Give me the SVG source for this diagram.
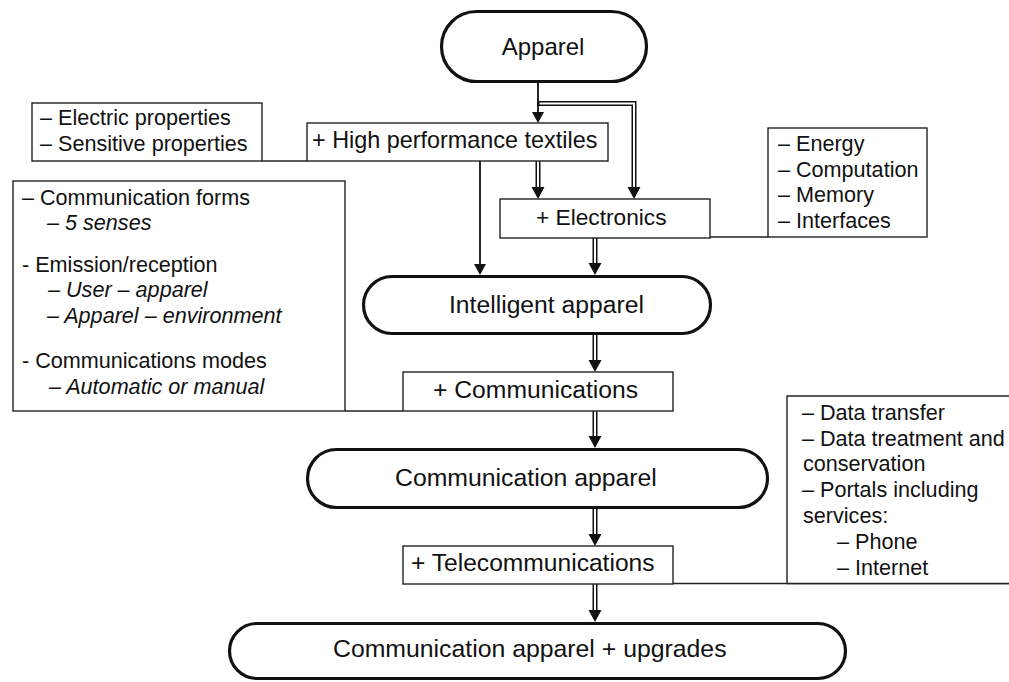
<svg xmlns="http://www.w3.org/2000/svg" width="1009" height="682" viewBox="0 0 1009 682">
<style>
text{font-family:"Liberation Sans",Arial,Helvetica,sans-serif;fill:#111;}
.node{fill:#fff;stroke:#111;stroke-width:3.2;}
.box{fill:#fff;stroke:#222;stroke-width:1.4;}
.side{font-size:21.6px;}
.it{font-style:italic;}
.thin{fill:none;stroke:#222;stroke-width:1.4;}
.single{fill:none;stroke:#111;stroke-width:1.8;}
.dblo{fill:none;stroke:#111;stroke-width:5;stroke-linejoin:miter;}
.dbli{fill:none;stroke:#fff;stroke-width:2;stroke-linejoin:miter;}
</style>
<defs>
<marker id="ahS" markerUnits="userSpaceOnUse" markerWidth="14" markerHeight="14" viewBox="0 -7 12 14" refX="0" refY="0" orient="auto">
<path d="M0,-6 L11,0 L0,6 z" fill="#111"/>
</marker>
<marker id="ahD" markerUnits="userSpaceOnUse" markerWidth="14" markerHeight="16" viewBox="0 -8 13 16" refX="0" refY="0" orient="auto">
<path d="M0,-6.5 L12,0 L0,6.5 z" fill="#111"/>
</marker>
</defs>
<rect width="1009" height="682" fill="#fff"/>

<g id="connectors">
<path class="thin" d="M262,161 H307"/>
<path class="thin" d="M710,237 H768"/>
<path class="thin" d="M345,411 H403"/>
<path class="thin" d="M673,583.5 H1012"/>
<path class="single" d="M538,83 V112" marker-end="url(#ahS)"/>
<path class="single" d="M480,161 V264" marker-end="url(#ahS)"/>
<path class="dblo" d="M537,103.5 H634 V187" marker-end="url(#ahD)"/>
<path class="dbli" d="M539.5,103.5 H634 V187"/>
<path class="dblo" d="M538,161 V187" marker-end="url(#ahD)"/>
<path class="dbli" d="M538,161 V187"/>
<path class="dblo" d="M595,238 V263" marker-end="url(#ahD)"/>
<path class="dbli" d="M595,238 V263"/>
<path class="dblo" d="M595,335 V360" marker-end="url(#ahD)"/>
<path class="dbli" d="M595,335 V360"/>
<path class="dblo" d="M595,411 V436" marker-end="url(#ahD)"/>
<path class="dbli" d="M595,411 V436"/>
<path class="dblo" d="M595,509 V534" marker-end="url(#ahD)"/>
<path class="dbli" d="M595,509 V534"/>
<path class="dblo" d="M595,584 V610" marker-end="url(#ahD)"/>
<path class="dbli" d="M595,584 V610"/>
</g>

<g id="apparel">
<rect class="node" x="441.5" y="11.5" width="205" height="70" rx="35"/>
<text x="501.7" y="55" font-size="24">Apparel</text>
</g>

<g id="textiles">
<rect class="box" x="307" y="123" width="301" height="38"/>
<text x="312" y="148" font-size="23.4">+ High performance textiles</text>
</g>

<g id="textile-props">
<rect class="box" x="32" y="103" width="230" height="58"/>
<text class="side" x="40" y="125">– Electric properties</text>
<text class="side" x="40" y="151">– Sensitive properties</text>
</g>

<g id="electronics">
<rect class="box" x="500" y="199" width="210" height="39"/>
<text x="536" y="225" font-size="22.7">+ Electronics</text>
</g>

<g id="electronics-props">
<rect class="box" x="768" y="128" width="159" height="109"/>
<text class="side" x="778" y="151">– Energy</text>
<text class="side" x="778" y="177">– Computation</text>
<text class="side" x="778" y="202">– Memory</text>
<text class="side" x="778" y="228">– Interfaces</text>
</g>

<g id="intelligent-apparel">
<rect class="node" x="363.5" y="276.5" width="347" height="57" rx="28.5"/>
<text x="449" y="313" font-size="24.7">Intelligent apparel</text>
</g>

<g id="communication-props">
<rect class="box" x="13" y="181" width="332" height="230"/>
<text class="side" x="22" y="205">– Communication forms</text>
<text class="side it" x="47" y="230">– 5 senses</text>
<text class="side" x="22" y="272">- Emission/reception</text>
<text class="side it" x="48" y="297">– User – apparel</text>
<text class="side it" x="47" y="323">– Apparel – environment</text>
<text class="side" x="22" y="368">- Communications modes</text>
<text class="side it" x="49" y="394">– Automatic or manual</text>
</g>

<g id="communications">
<rect class="box" x="403" y="372" width="270" height="39"/>
<text x="433" y="398" font-size="24.7">+ Communications</text>
</g>

<g id="communication-apparel">
<rect class="node" x="307.5" y="449.5" width="460" height="58" rx="29"/>
<text x="395" y="486" font-size="24.8">Communication apparel</text>
</g>

<g id="telecom-props">
<path class="box" d="M1012,396 H787 V583.5 H1012"/>
<text class="side" x="802" y="420">– Data transfer</text>
<text class="side" x="802" y="446">– Data treatment and</text>
<text class="side" x="803" y="471">conservation</text>
<text class="side" x="802" y="497">– Portals including</text>
<text class="side" x="803" y="523">services:</text>
<text class="side" x="837" y="549">– Phone</text>
<text class="side" x="837" y="575">– Internet</text>
</g>

<g id="telecommunications">
<rect class="box" x="403" y="546" width="270" height="38"/>
<text x="411" y="571" font-size="24.6">+ Telecommunications</text>
</g>

<g id="upgrades">
<rect class="node" x="229.5" y="623.5" width="616" height="55" rx="27.5"/>
<text x="333" y="657" font-size="24.8">Communication apparel + upgrades</text>
</g>
</svg>
